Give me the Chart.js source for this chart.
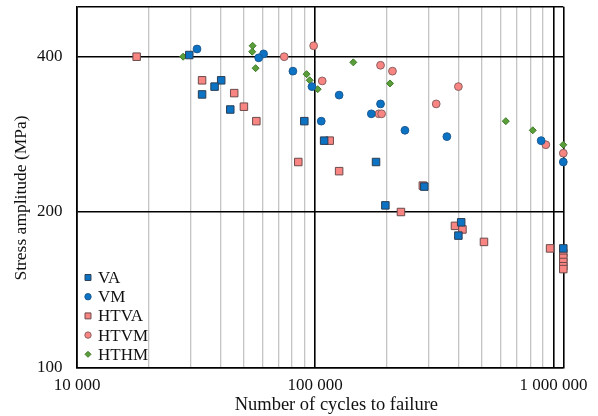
<!DOCTYPE html>
<html>
<head>
<meta charset="utf-8">
<script src="https://cdn.jsdelivr.net/npm/chart.js@4.4.0/dist/chart.umd.min.js"></script>
<style>
    html, body { margin: 0; padding: 0; background: #fff; }
</style>
</head>
<body>
<canvas id="myChart" width="598" height="416"></canvas>
<script>
const seriesNames = ['VA', 'VM', 'HTVA', 'HTVM', 'HTHM'];

const vaCycles = [29600, 40300, 37800, 33500, 44000, 90000, 109000, 180000, 287000, 197000, 410000, 399000, 1100000];
const vaStress = [403, 360, 350, 338, 316, 300, 275, 250, 224, 206, 191, 180, 170];

const vmCycles = [31900, 60700, 57900, 80600, 96900, 126000, 106000, 188000, 172000, 238000, 357000, 888000, 1100000];
const vmStress = [414, 405, 398, 375, 350, 337, 300, 324, 310, 288, 280, 275, 250];

const htvaCycles = [17800, 33500, 45700, 50200, 56600, 84900, 115000, 126000, 283000, 229000, 386000, 415000, 511000, 968000,
    1100000, 1100000, 1100000, 1100000, 1100000];
const htvaStress = [400, 360, 340, 320, 300, 250, 275, 240, 225, 200, 188, 185, 175, 170,
    166.5, 163, 160, 157, 155];

const htvmCycles = [74100, 98500, 107000, 188000, 211000, 399000, 185000, 190000, 322000, 929000, 1100000];
const htvmStress = [400, 420, 359, 385, 375, 350, 310, 310, 324, 270, 260];

const hthmCycles = [27900, 54600, 54400, 56200, 92000, 94800, 102400, 144500, 206000, 631000, 819000, 1100000];
const hthmStress = [400, 420, 409, 380, 370, 360, 346, 390, 355, 300, 288, 270];

const xTicks = [10000, 100000, 1000000];
const xTickLabels = ['10 000', '100 000', '1 000 000'];
const yTicks = [100, 200, 400];
const yTickLabels = ['100', '200', '400'];

const X_MIN = 10000, X_MAX = 1100000;
const Y_MIN = 100, Y_MAX = 500;

const FONT = "'Liberation Serif', 'Times New Roman', serif";
const BLUE = '#0b72c4';
const PINK = '#f98583';
const GREEN = '#5a9e3a';

// vertical grid: every 1..9 of each decade, plus the frame edge
const xGrid = [];
[10000, 100000].forEach(d => { for (let m = 1; m < 10; m++) xGrid.push(m * d); });
xGrid.push(1000000, X_MAX);
const xMajor = [...xTicks, X_MAX];

const zip = (xs, ys) => xs.map((x, i) => ({ x: x, y: ys[i] }));

const styles = [
    { pointStyle: 'rect', pointRadius: 5.3, backgroundColor: BLUE, borderColor: '#2b3f55', legendRadius: 4.2 },
    { pointStyle: 'circle', pointRadius: 3.9, backgroundColor: BLUE, borderColor: '#1d5a92', legendRadius: 3.2 },
    { pointStyle: 'rect', pointRadius: 5.3, backgroundColor: PINK, borderColor: '#6b4a4a', legendRadius: 4.2 },
    { pointStyle: 'circle', pointRadius: 3.9, backgroundColor: PINK, borderColor: '#8a6060', legendRadius: 3.2 },
    { pointStyle: 'rectRot', pointRadius: 3.5, backgroundColor: GREEN, borderColor: '#3f7a27', legendRadius: 3 }
];
const pairs = [
    [vaCycles, vaStress], [vmCycles, vmStress], [htvaCycles, htvaStress],
    [htvmCycles, htvmStress], [hthmCycles, hthmStress]
];

const datasets = seriesNames.map((name, i) => Object.assign({
    label: name,
    data: zip(pairs[i][0], pairs[i][1]),
    borderWidth: 1,
    pointHoverRadius: styles[i].pointRadius,
    clip: false
}, styles[i]));

// legend drawn inside the plot, bottom left
const insideLegend = {
    id: 'insideLegend',
    afterDatasetsDraw(chart) {
        const ctx = chart.ctx;
        const x0 = chart.chartArea.left + 11;
        const top = 277.5, step = 19.2;
        chart.data.datasets.forEach((ds, i) => {
            const y = top + i * step;
            ctx.save();
            ctx.fillStyle = ds.backgroundColor;
            ctx.strokeStyle = ds.borderColor;
            ctx.lineWidth = 1;
            Chart.helpers.drawPoint(ctx, {
                pointStyle: ds.pointStyle, radius: ds.legendRadius, borderWidth: 1, rotation: 0
            }, x0, y);
            ctx.fillStyle = '#111';
            ctx.font = '17px ' + FONT;
            ctx.textBaseline = 'middle';
            ctx.textAlign = 'left';
            ctx.fillText(ds.label, x0 + 10, y + 1);
            ctx.restore();
        });
    }
};

const nb = n => '\u00A0'.repeat(n);

const ctx = document.getElementById('myChart');
const myChart = new Chart(ctx, {
    type: 'scatter',
    data: { datasets: datasets },
    plugins: [insideLegend],
    options: {
        responsive: false,
        animation: false,
        events: [],
        layout: { padding: { top: 6.7, right: 34.7, bottom: 0, left: 0 } },
        plugins: {
            legend: { display: false },
            tooltip: { enabled: false }
        },
        scales: {
            x: {
                type: 'logarithmic',
                min: X_MIN,
                max: X_MAX,
                afterBuildTicks: s => { s.ticks = xGrid.map(v => ({ value: v })); },
                afterFit: s => { s.height = 48.7; s.paddingLeft = 0; s.paddingRight = 0; },
                ticks: {
                    autoSkip: false,
                    maxRotation: 0,
                    padding: 8,
                    color: '#111',
                    font: { family: FONT, size: 17 },
                    callback: v => {
                        const k = xTicks.indexOf(v);
                        return k >= 0 ? xTickLabels[k] : '';
                    }
                },
                grid: {
                    drawTicks: false,
                    color: c => xMajor.includes(c.tick.value) ? '#000' : '#c4c4c4',
                    lineWidth: c => xMajor.includes(c.tick.value) ? 1.6 : 1.3
                },
                border: { color: '#000', width: 1.6 },
                title: {
                    display: true,
                    text: nb(7) + 'Number of cycles to failure',
                    color: '#111',
                    font: { family: FONT, size: 18.5 },
                    padding: { top: 0, bottom: 0 }
                }
            },
            y: {
                type: 'logarithmic',
                min: Y_MIN,
                max: Y_MAX,
                afterBuildTicks: s => { s.ticks = [...yTicks, Y_MAX].map(v => ({ value: v })); },
                afterFit: s => { s.width = 77; s.paddingTop = 0; s.paddingBottom = 0; },
                ticks: {
                    padding: 14.5,
                    color: '#111',
                    font: { family: FONT, size: 17 },
                    callback: v => {
                        const k = yTicks.indexOf(v);
                        return k >= 0 ? yTickLabels[k] : '';
                    }
                },
                grid: {
                    drawTicks: false,
                    color: '#000',
                    lineWidth: 1.6
                },
                border: { color: '#000', width: 1.6 },
                title: {
                    display: true,
                    text: 'Stress amplitude (MPa)' + nb(5),
                    color: '#111',
                    font: { family: FONT, size: 17.5 },
                    padding: { top: 11, bottom: 0 }
                }
            }
        }
    }
});
</script>
</body>
</html>
